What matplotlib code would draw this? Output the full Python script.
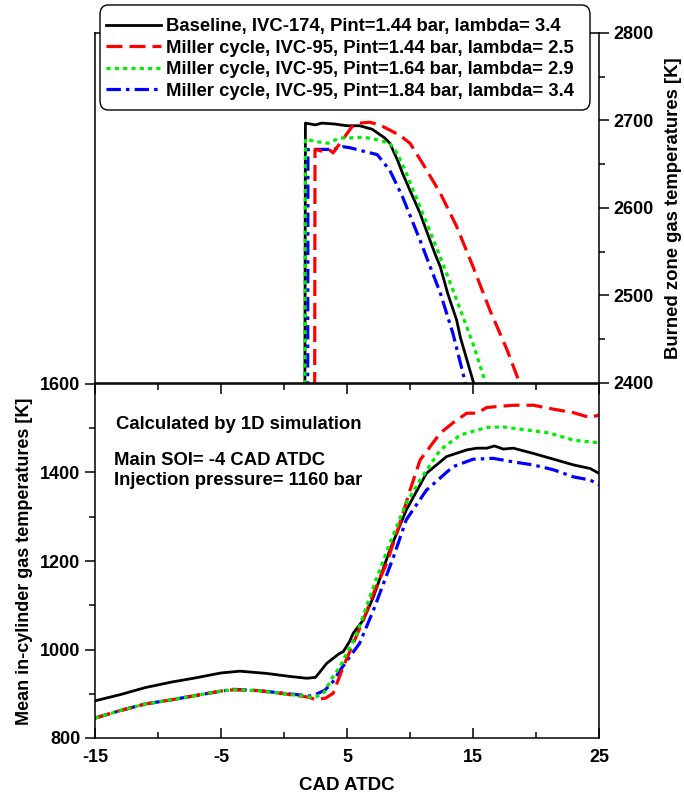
import matplotlib
matplotlib.use("Agg")
import matplotlib.pyplot as plt
from matplotlib.ticker import MultipleLocator
from matplotlib.patches import FancyBboxPatch

plt.rcParams['font.family'] = ['Liberation Sans', 'DejaVu Sans']
plt.rcParams['font.weight'] = 'bold'
plt.rcParams['axes.unicode_minus'] = False

labels = ["Baseline, IVC-174, Pint=1.44 bar, lambda= 3.4",
          "Miller cycle, IVC-95, Pint=1.44 bar, lambda= 2.5",
          "Miller cycle, IVC-95, Pint=1.64 bar, lambda= 2.9",
          "Miller cycle, IVC-95, Pint=1.84 bar, lambda= 3.4"]

x_major = [-15, -5, 5, 15, 25]
x_minor = [-10, 0, 10, 20]

# burned zone gas temperature (top part, right axis)
bz_x_base = [1.6, 1.7, 2.5, 3.0, 4.0, 5.0, 6.0, 7.0, 8.0, 8.4, 9.0, 9.4, 10.0, 10.8, 11.0, 12.0, 12.4, 13.0, 13.7, 14.0, 15.05]
bz_t_base = [2000, 2697, 2695, 2697, 2696, 2694, 2694, 2690, 2680, 2674, 2655, 2640, 2620, 2594, 2586, 2547, 2533, 2502, 2472, 2452, 2400]
bz_x_m1 = [2.4, 2.46, 3.0, 3.65, 3.9, 4.44, 5.4, 6.0, 6.8, 7.6, 8.4, 9.2, 10.0, 11.0, 12.4, 13.7, 15.0, 16.35, 17.7, 18.7]
bz_t_m1 = [2000, 2667, 2665, 2666, 2663, 2674, 2693, 2697, 2698, 2695, 2689, 2683, 2674, 2651, 2617, 2579, 2533, 2483, 2438, 2400]
bz_x_m2 = [1.6, 1.7, 2.5, 3.5, 4.4, 5.2, 6.3, 7.4, 8.4, 9.0, 9.7, 11.0, 12.4, 13.7, 15.0, 16.0]
bz_t_m2 = [2000, 2679, 2676, 2674, 2680, 2680, 2681, 2678, 2674, 2662, 2640, 2594, 2544, 2495, 2445, 2400]
bz_x_m3 = [1.85, 1.9, 3.0, 3.9, 4.7, 5.2, 6.0, 7.4, 8.4, 9.4, 10.8, 12.4, 13.4, 14.4]
bz_t_m3 = [2000, 2667, 2667, 2667, 2670, 2669, 2666, 2661, 2643, 2613, 2563, 2503, 2457, 2400]

# mean in-cylinder gas temperature (bottom part, left axis)
mc_x_base = [-15, -13, -11, -9, -7, -5, -3.5, -1.4, 0.5, 1.8, 2.5, 3.4, 4.4, 4.7, 5.2, 5.5, 6.3, 7.1, 8.4, 9.7, 11.3, 12.9, 14.5, 15.3, 16.1, 16.7, 17.4, 18.2, 19.8, 21.4, 23.0, 24.3, 25]
mc_t_base = [884, 898, 914, 926, 936, 947, 951, 946, 939, 935, 937, 969, 991, 995, 1018, 1037, 1067, 1119, 1225, 1315, 1398, 1436, 1451, 1455, 1455, 1460, 1453, 1455, 1443, 1430, 1417, 1409, 1398]
mc_x_m1 = [-15, -13, -11, -9, -7, -5, -4, -2, 0, 2.0, 2.46, 3.3, 3.9, 4.7, 5.5, 6.3, 7.2, 8.15, 9.2, 10.0, 10.8, 12.4, 13.4, 14.5, 15.3, 16.1, 18.2, 19.8, 21.4, 23.0, 24.3, 25]
mc_t_m1 = [845, 862, 877, 886, 896, 906, 909, 907, 900, 892, 887, 890, 901, 961, 1014, 1067, 1134, 1195, 1286, 1360, 1428, 1489, 1512, 1534, 1534, 1547, 1552, 1552, 1543, 1535, 1524, 1530]
mc_x_m2 = [-15, -13, -11, -9, -7, -5, -4, -2, 0, 2.0, 2.4, 3.2, 3.8, 4.44, 5.8, 7.1, 8.4, 9.7, 10.8, 12.4, 14.0, 16.1, 17.4, 19.3, 21.1, 23.0, 25]
mc_t_m2 = [845, 862, 877, 886, 896, 906, 909, 907, 900, 893, 891, 903, 935, 961, 1037, 1142, 1240, 1331, 1383, 1451, 1485, 1502, 1503, 1496, 1489, 1473, 1467]
mc_x_m3 = [-15, -13, -11, -9, -7, -5, -4, -2, 0, 2.0, 2.4, 3.25, 3.9, 4.5, 6.0, 7.1, 8.7, 9.7, 11.3, 13.4, 15.0, 16.6, 18.2, 19.8, 21.4, 23.0, 24.3, 25]
mc_t_m3 = [845, 862, 877, 886, 896, 906, 910, 907, 901, 895, 897, 908, 928, 955, 1014, 1089, 1210, 1293, 1360, 1413, 1430, 1432, 1424, 1417, 1406, 1390, 1383, 1372]

notes = ["Calculated by 1D simulation", "Main SOI= -4 CAD ATDC", "Injection pressure= 1160 bar"]

colors = ['black', 'red', '#00ee00', 'blue']
styles = ['-', (0, (5, 2.2)), (0, (1.3, 1.3)), (0, (4.5, 1.6, 1.1, 1.6))]
widths = [2.0, 2.3, 2.3, 2.3]

W, H = 684, 794
fig = plt.figure(figsize=(6.84, 7.94), dpi=100)
ax = fig.add_axes([95/W, 56/H, 504/W, 354/H])
ax2 = fig.add_axes([95/W, 411/H, 504/W, 350/H])

for s in ax.spines.values():
    s.set_linewidth(1.1)
for s in ax2.spines.values():
    s.set_linewidth(1.1)

bottom = [(mc_x_base, mc_t_base), (mc_x_m1, mc_t_m1), (mc_x_m2, mc_t_m2), (mc_x_m3, mc_t_m3)]
top = [(bz_x_base, bz_t_base), (bz_x_m1, bz_t_m1), (bz_x_m2, bz_t_m2), (bz_x_m3, bz_t_m3)]
order = [0, 3, 1, 2]
handles = [None] * 4
for i in order:
    handles[i], = ax.plot(*bottom[i], color=colors[i], ls=styles[i], lw=widths[i], label=labels[i])
    ax2.plot(*top[i], color=colors[i], ls=styles[i], lw=widths[i])

ax.set_xlim(-15, 25)
ax.set_ylim(800, 1600)
ax.set_xticks(x_major)
ax.set_xticks(x_minor, minor=True)
ax.yaxis.set_major_locator(MultipleLocator(200))
ax.yaxis.set_minor_locator(MultipleLocator(100))
ax.tick_params(axis='x', which='both', direction='in', top=True, labelsize=13, pad=8, width=1.1)
ax.tick_params(axis='x', which='major', length=7)
ax.tick_params(axis='x', which='minor', length=4)
ax.tick_params(axis='y', which='both', direction='out', labelsize=13, width=1.1)
ax.tick_params(axis='y', which='major', length=7)
ax.tick_params(axis='y', which='minor', length=4)
ax.set_xlabel("CAD ATDC", fontsize=13.5, fontweight='bold', labelpad=8)
ax.set_ylabel("Mean in-cylinder gas temperatures [K]", fontsize=13, fontweight='bold', labelpad=5)

ax2.set_xlim(-15, 25)
ax2.set_ylim(2400, 2800)
ax2.set_xticks([])
ax2.yaxis.tick_right()
ax2.yaxis.set_label_position('right')
ax2.yaxis.set_major_locator(MultipleLocator(100))
ax2.yaxis.set_minor_locator(MultipleLocator(50))
ax2.tick_params(axis='y', which='both', direction='out', labelsize=13, width=1.1)
ax2.tick_params(axis='y', which='major', length=7)
ax2.tick_params(axis='y', which='minor', length=4)
ax2.set_ylabel("Burned zone gas temperatures [K]", fontsize=13.3, fontweight='bold', labelpad=8)
ax2.patch.set_alpha(0)

ax.text(0.042, 0.885, notes[0], transform=ax.transAxes, fontsize=13.3, fontweight='bold', va='center')
ax.text(0.038, 0.785, notes[1], transform=ax.transAxes, fontsize=13.3, fontweight='bold', va='center')
ax.text(0.038, 0.727, notes[2], transform=ax.transAxes, fontsize=13.3, fontweight='bold', va='center')

# legend frame (rounded box) drawn separately, legend entries on top
frame = FancyBboxPatch((100/W, 1 - 110/H), 490/W, 105/H, boxstyle="round,pad=0,rounding_size=0.012",
                       transform=fig.transFigure, facecolor='white', edgecolor='black', lw=1.0, zorder=5)
fig.patches.append(frame)
leg = fig.legend(handles=handles, loc='upper left', bbox_to_anchor=(106/W, 1 - 18/H),
                 prop={'size': 13.3, 'weight': 'bold'}, handlelength=3.0, handletextpad=0.25,
                 labelspacing=0.25, borderpad=0, borderaxespad=0, frameon=False)
leg.set_zorder(6)

fig.savefig("out.png", dpi=100)
